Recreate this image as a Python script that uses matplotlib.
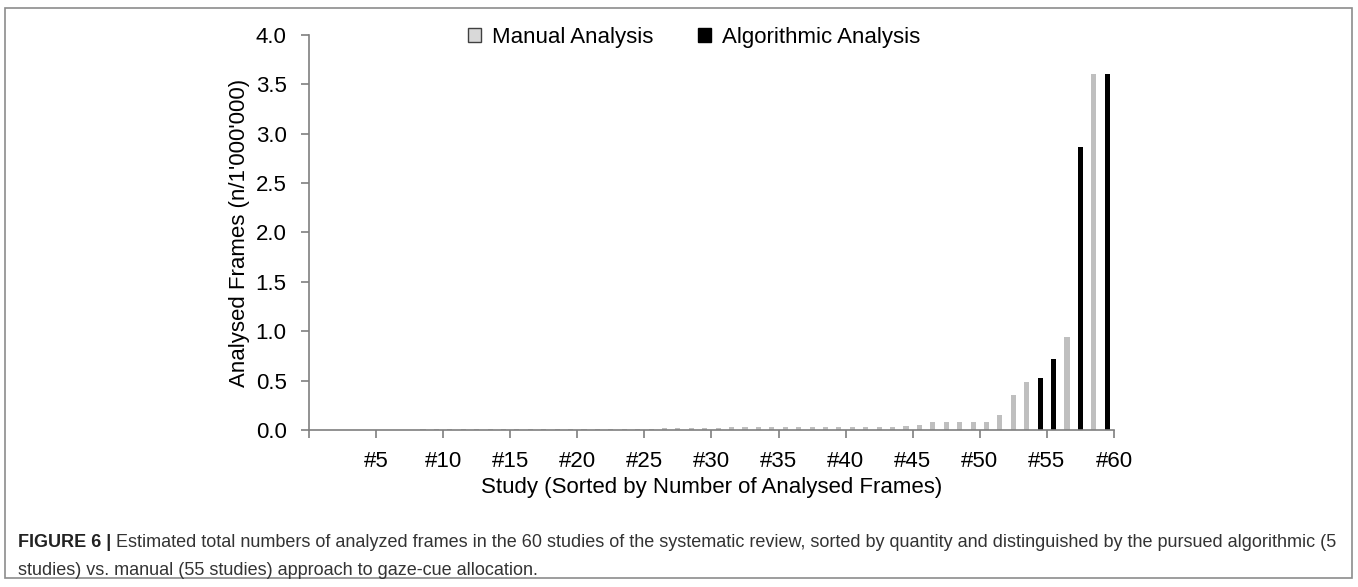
import matplotlib
matplotlib.use('Agg')
import matplotlib.pyplot as plt
from matplotlib.patches import Patch, Rectangle

plt.rcParams['font.family'] = ['Liberation Sans', 'DejaVu Sans']

# 每项研究的分析帧数（百万），按数量排序
studies = list(range(1, 61))
manual = [0.001] * 8 + [0.006] * 6 + [0.008] * 6 + [0.010] * 4 + [0.012, 0.012, 0.015, 0.020, 0.020,
          0.020, 0.025] + [0.035] * 13 + [0.040, 0.055, 0.080, 0.080, 0.080, 0.085, 0.085,
          0.150, 0.350, 0.490, 0, 0, 0.940, 0, 3.600, 0]
algorithmic = [0] * 54 + [0.530, 0.720, 0, 2.870, 0, 3.600]
tick_pos = list(range(0, 61, 5))
tick_labels = [''] + ['#%d' % t for t in tick_pos[1:]]

fig = plt.figure(figsize=(13.58, 5.87), dpi=100)
ax = fig.add_axes([0.2275, 0.2675, 0.5928, 0.6729])

x = [s - 0.5 for s in studies]
ax.bar(x, manual, width=0.38, color='#bfbfbf', label='Manual Analysis')
ax.bar(x, algorithmic, width=0.38, color='black', label='Algorithmic Analysis')

ax.set_xlim(0, 60)
ax.set_ylim(0, 4.0)
ax.set_yticks([0, 0.5, 1.0, 1.5, 2.0, 2.5, 3.0, 3.5, 4.0])
ax.set_yticklabels(['%.1f' % v for v in ax.get_yticks()], fontsize=16)
ax.set_xticks(tick_pos)
ax.set_xticklabels(tick_labels, fontsize=16)
ax.tick_params(axis='both', colors='#7f7f7f', length=6, width=1.2, labelcolor='black')
ax.tick_params(axis='y', pad=10)
ax.tick_params(axis='x', pad=9)
for side in ['top', 'right']:
    ax.spines[side].set_visible(False)
for side in ['left', 'bottom']:
    ax.spines[side].set_color('#7f7f7f')
    ax.spines[side].set_linewidth(1.2)

ax.set_xlabel('Study (Sorted by Number of Analysed Frames)', fontsize=16, labelpad=4)
ax.set_ylabel("Analysed Frames (n/1'000'000)", fontsize=16, labelpad=4)

handles = [Patch(facecolor='#d9d9d9', edgecolor='#404040', linewidth=1),
           Patch(facecolor='black', edgecolor='black')]
fig.legend(handles, ['Manual Analysis', 'Algorithmic Analysis'], loc='center',
           bbox_to_anchor=(694 / 1358, 1 - 37 / 587), ncol=2, frameon=False, fontsize=16,
           handlelength=0.6, handleheight=0.6, handletextpad=0.5, columnspacing=2.0)

# 外框
fig.patches.append(Rectangle((5 / 1358, 9 / 587), 1347 / 1358, 570 / 587, transform=fig.transFigure,
                             fill=False, edgecolor='#8c8c8c', linewidth=1.2))

# 图注
bold = fig.text(18 / 1358, 1 - 547 / 587, 'FIGURE 6 |', fontsize=13, fontweight='bold', color='#222222')
ax.annotate(' Estimated total numbers of analyzed frames in the 60 studies of the systematic review, '
            'sorted by quantity and distinguished by the pursued algorithmic (5',
            xy=(1, 0), xycoords=bold, va='bottom', fontsize=13, color='#333333', annotation_clip=False)
fig.text(18 / 1358, 1 - 575 / 587, 'studies) vs. manual (55 studies) approach to gaze-cue allocation.',
         fontsize=13, color='#333333')

plt.savefig('out.png', dpi=100)
